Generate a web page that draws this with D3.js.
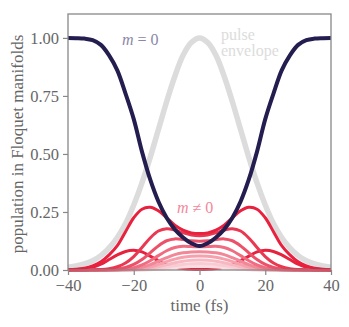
<!DOCTYPE html>
<html>
<head>
<meta charset="utf-8">
<script src="https://cdnjs.cloudflare.com/ajax/libs/d3/7.8.5/d3.min.js"></script>
<style>
  body { margin: 0; background: #fff; }
</style>
</head>
<body>
<div id="chart"></div>
<script>
const serif = "'Liberation Serif', 'Times New Roman', Tinos, 'Nimbus Roman', 'DejaVu Serif', serif";

// curves are symmetric in time, values read for t >= 0 and mirrored
const times = [0, 2.5, 5, 7.5, 10, 12.5, 15, 17.5, 20, 22.5, 25, 27.5, 30, 32.5, 35, 37.5, 40];

const pulse = [1, 0.98, 0.925, 0.835, 0.725, 0.605, 0.485, 0.375, 0.28, 0.2, 0.14, 0.095, 0.062, 0.04, 0.026, 0.017, 0.012];
const m0 = [0.103, 0.115, 0.14, 0.175, 0.225, 0.295, 0.39, 0.51, 0.65, 0.76, 0.86, 0.925, 0.97, 0.99, 0.997, 0.999, 1.0];

// m != 0 manifolds, strongest first
const mNonZero = [
  [0.157, 0.16, 0.172, 0.193, 0.225, 0.255, 0.27, 0.262, 0.225, 0.165, 0.105, 0.065, 0.035, 0.018, 0.008, 0.003, 0.001],
  [0.148, 0.151, 0.16, 0.172, 0.178, 0.168, 0.138, 0.097, 0.058, 0.03, 0.014, 0.006, 0.002, 0.001, 0, 0, 0],
  [0.124, 0.126, 0.131, 0.134, 0.126, 0.104, 0.074, 0.045, 0.024, 0.011, 0.004, 0.001, 0, 0, 0, 0, 0],
  [0.1, 0.101, 0.102, 0.097, 0.083, 0.062, 0.04, 0.022, 0.01, 0.004, 0.001, 0, 0, 0, 0, 0, 0],
  [0.079, 0.078, 0.074, 0.066, 0.053, 0.038, 0.023, 0.012, 0.005, 0.002, 0, 0, 0, 0, 0, 0, 0],
  [0.06, 0.059, 0.055, 0.047, 0.036, 0.024, 0.013, 0.006, 0.002, 0, 0, 0, 0, 0, 0, 0, 0],
  [0.043, 0.042, 0.038, 0.031, 0.023, 0.014, 0.007, 0.003, 0.001, 0, 0, 0, 0, 0, 0, 0, 0],
  [0.028, 0.027, 0.024, 0.019, 0.013, 0.007, 0.003, 0.001, 0, 0, 0, 0, 0, 0, 0, 0, 0],
  [0.015, 0.015, 0.013, 0.01, 0.006, 0.003, 0.001, 0, 0, 0, 0, 0, 0, 0, 0, 0, 0],
  [0.002, 0.003, 0.006, 0.012, 0.022, 0.04, 0.06, 0.078, 0.085, 0.08, 0.065, 0.045, 0.025, 0.012, 0.005, 0.002, 0]
];
const redColors = ["#e8213f", "#ea3853", "#ed5169", "#f06c81", "#f28797", "#f5a1ae", "#f7b8c2", "#f9cbd2", "#fbdce1", "#e8213f"];

const xTicks = [-40, -20, 0, 20, 40];
const yTicks = [0, 0.25, 0.5, 0.75, 1.0];

const width = 349, height = 327;
const margin = { left: 68, right: 18, top: 14, bottom: 57 };

const svg = d3.select("#chart").append("svg")
    .attr("width", width)
    .attr("height", height);

const x = d3.scaleLinear().domain([-40, 40]).range([margin.left, width - margin.right]);
const y = d3.scaleLinear().domain([0, 1.103]).range([height - margin.bottom, margin.top]);

function mirror(vals) {
  const pts = [];
  for (let i = times.length - 1; i > 0; i--) pts.push([-times[i], vals[i]]);
  for (let i = 0; i < times.length; i++) pts.push([times[i], vals[i]]);
  return pts;
}

const line = d3.line()
    .x(d => x(d[0]))
    .y(d => y(d[1]))
    .curve(d3.curveCatmullRom.alpha(0.5));

const plot = svg.append("g");
plot.append("clipPath").attr("id", "clip")
  .append("rect")
    .attr("x", x(-40)).attr("y", y(1.103))
    .attr("width", x(40) - x(-40)).attr("height", y(0) - y(1.103) + 3);

const g = plot.append("g").attr("clip-path", "url(#clip)");

// pulse envelope
g.append("path")
    .attr("d", line(mirror(pulse)))
    .attr("fill", "none")
    .attr("stroke", "#dcdcdc")
    .attr("stroke-width", 5.5);

// m != 0, light ones first, the low side lobe curve first of all
const order = [9, 8, 7, 6, 5, 4, 3, 2, 1, 0];
order.forEach(i => {
  g.append("path")
      .attr("d", line(mirror(mNonZero[i])))
      .attr("fill", "none")
      .attr("stroke", redColors[i])
      .attr("stroke-width", 3);
});

// m = 0
g.append("path")
    .attr("d", line(mirror(m0)))
    .attr("fill", "none")
    .attr("stroke", "#241d4f")
    .attr("stroke-width", 4);

// frame
svg.append("rect")
    .attr("x", x(-40)).attr("y", y(1.103))
    .attr("width", x(40) - x(-40)).attr("height", y(0) - y(1.103))
    .attr("fill", "none")
    .attr("stroke", "#888")
    .attr("stroke-width", 1.3);

const fmtX = d => d < 0 ? "\u2212" + Math.abs(d) : String(d);

const xAxis = svg.append("g")
    .attr("transform", `translate(0,${y(0)})`)
    .call(d3.axisBottom(x).tickValues(xTicks).tickFormat(fmtX).tickSize(5).tickPadding(4));
const yAxis = svg.append("g")
    .attr("transform", `translate(${x(-40)},0)`)
    .call(d3.axisLeft(y).tickValues(yTicks).tickFormat(d3.format(".2f")).tickSize(5).tickPadding(4));

[xAxis, yAxis].forEach(a => {
  a.attr("font-family", serif).attr("font-size", 16.5);
  a.select(".domain").remove();
  a.selectAll(".tick line").attr("stroke", "#888").attr("stroke-width", 1.2);
  a.selectAll(".tick text").attr("fill", "#666");
});

// axis labels
svg.append("text")
    .attr("x", x(0)).attr("y", 311)
    .attr("text-anchor", "middle")
    .attr("fill", "#666")
    .attr("font-family", serif)
    .attr("font-size", 17)
    .text("time (fs)");

svg.append("text")
    .attr("transform", `translate(23,${(y(0) + y(1.103)) / 2 + 2}) rotate(-90)`)
    .attr("text-anchor", "middle")
    .attr("fill", "#666")
    .attr("font-family", serif)
    .attr("font-size", 17)
    .text("population in Floquet manifolds");

// annotations
const ann = svg.append("g").attr("font-family", serif).attr("font-size", 16);
ann.append("text").attr("x", 122).attr("y", 45).attr("fill", "#8b87a8")
  .html('<tspan font-style="italic">m</tspan> = 0');
ann.append("text").attr("x", 221).attr("y", 40).attr("fill", "#dcdcdc").text("pulse");
ann.append("text").attr("x", 221).attr("y", 56).attr("fill", "#dcdcdc").text("envelope");
ann.append("text").attr("x", 177).attr("y", 213).attr("fill", "#f2889a")
  .html('<tspan font-style="italic">m</tspan> \u2260 0');
</script>
</body>
</html>
